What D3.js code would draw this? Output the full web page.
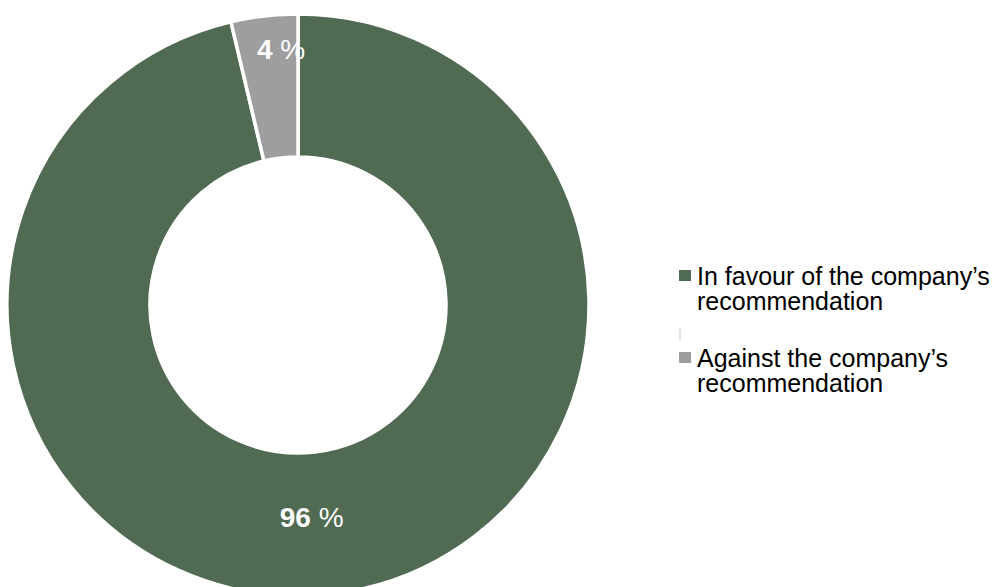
<!DOCTYPE html>
<html>
<head>
<meta charset="utf-8">
<script src="https://cdn.jsdelivr.net/npm/d3@7"></script>
<style>
  html, body { margin: 0; padding: 0; background: #ffffff; }
  svg { display: block; }
</style>
</head>
<body>
<svg id="chart" width="1000" height="587"></svg>
<script>
// ---- data ----
const categories = ["In favour of the company\u2019s recommendation", "Against the company\u2019s recommendation"];
const legendLines = [["In favour of the company\u2019s", "recommendation"], ["Against the company\u2019s", "recommendation"]];
const values = [96.3, 3.7];
const labels = ["96", "4"];
const colors = ["#516a52", "#9e9e9e"];

// ---- layout ----
const svg = d3.select("#chart");
const cx = 298, cy = 305;
const outerR = 291, innerR = 148;

const pie = d3.pie().sort(null).value(d => d);
const arcs = pie(values);
const arc = d3.arc().innerRadius(innerR).outerRadius(outerR);

const g = svg.append("g").attr("transform", `translate(${cx},${cy})`);

g.selectAll("path.slice")
  .data(arcs)
  .join("path")
  .attr("class", "slice")
  .attr("d", arc)
  .attr("fill", (d, i) => colors[i])
  .attr("stroke", "#ffffff")
  .attr("stroke-width", 3.5)
  .attr("stroke-linejoin", "miter");

// data labels
const labelRadius = [213, 258];
const labelDx = [-11, 13];
arcs.forEach((d, i) => {
  const a = (d.startAngle + d.endAngle) / 2;
  const r = labelRadius[i];
  const x = Math.sin(a) * r + labelDx[i];
  const y = -Math.cos(a) * r;
  const t = g.append("text")
    .attr("x", x)
    .attr("y", y)
    .attr("text-anchor", "middle")
    .attr("dominant-baseline", "central")
    .attr("fill", "#ffffff")
    .attr("font-family", "'Liberation Sans', Arial, sans-serif")
    .attr("font-size", 28);
  t.append("tspan").attr("font-weight", "bold").text(labels[i]);
  t.append("tspan").attr("font-weight", "normal").text(" %");
});

// legend
const legend = svg.append("g").attr("transform", "translate(679,270)");
const entryGap = 82;
legendLines.forEach((lines, i) => {
  const eg = legend.append("g").attr("transform", `translate(0,${i * entryGap})`);
  eg.append("rect")
    .attr("x", 0).attr("y", 0)
    .attr("width", 12).attr("height", 11)
    .attr("fill", colors[i]);
  const txt = eg.append("text")
    .attr("font-family", "'Liberation Sans', Arial, sans-serif")
    .attr("font-size", 25)
    .attr("fill", "#000000");
  lines.forEach((ln, j) => {
    txt.append("tspan")
      .attr("x", 18)
      .attr("y", 15 + j * 25)
      .text(ln);
  });
});
// faint separator mark in legend
legend.append("line")
  .attr("x1", 1).attr("x2", 1)
  .attr("y1", 59).attr("y2", 70)
  .attr("stroke", "#c8c8c8")
  .attr("stroke-width", 1);
</script>
</body>
</html>
